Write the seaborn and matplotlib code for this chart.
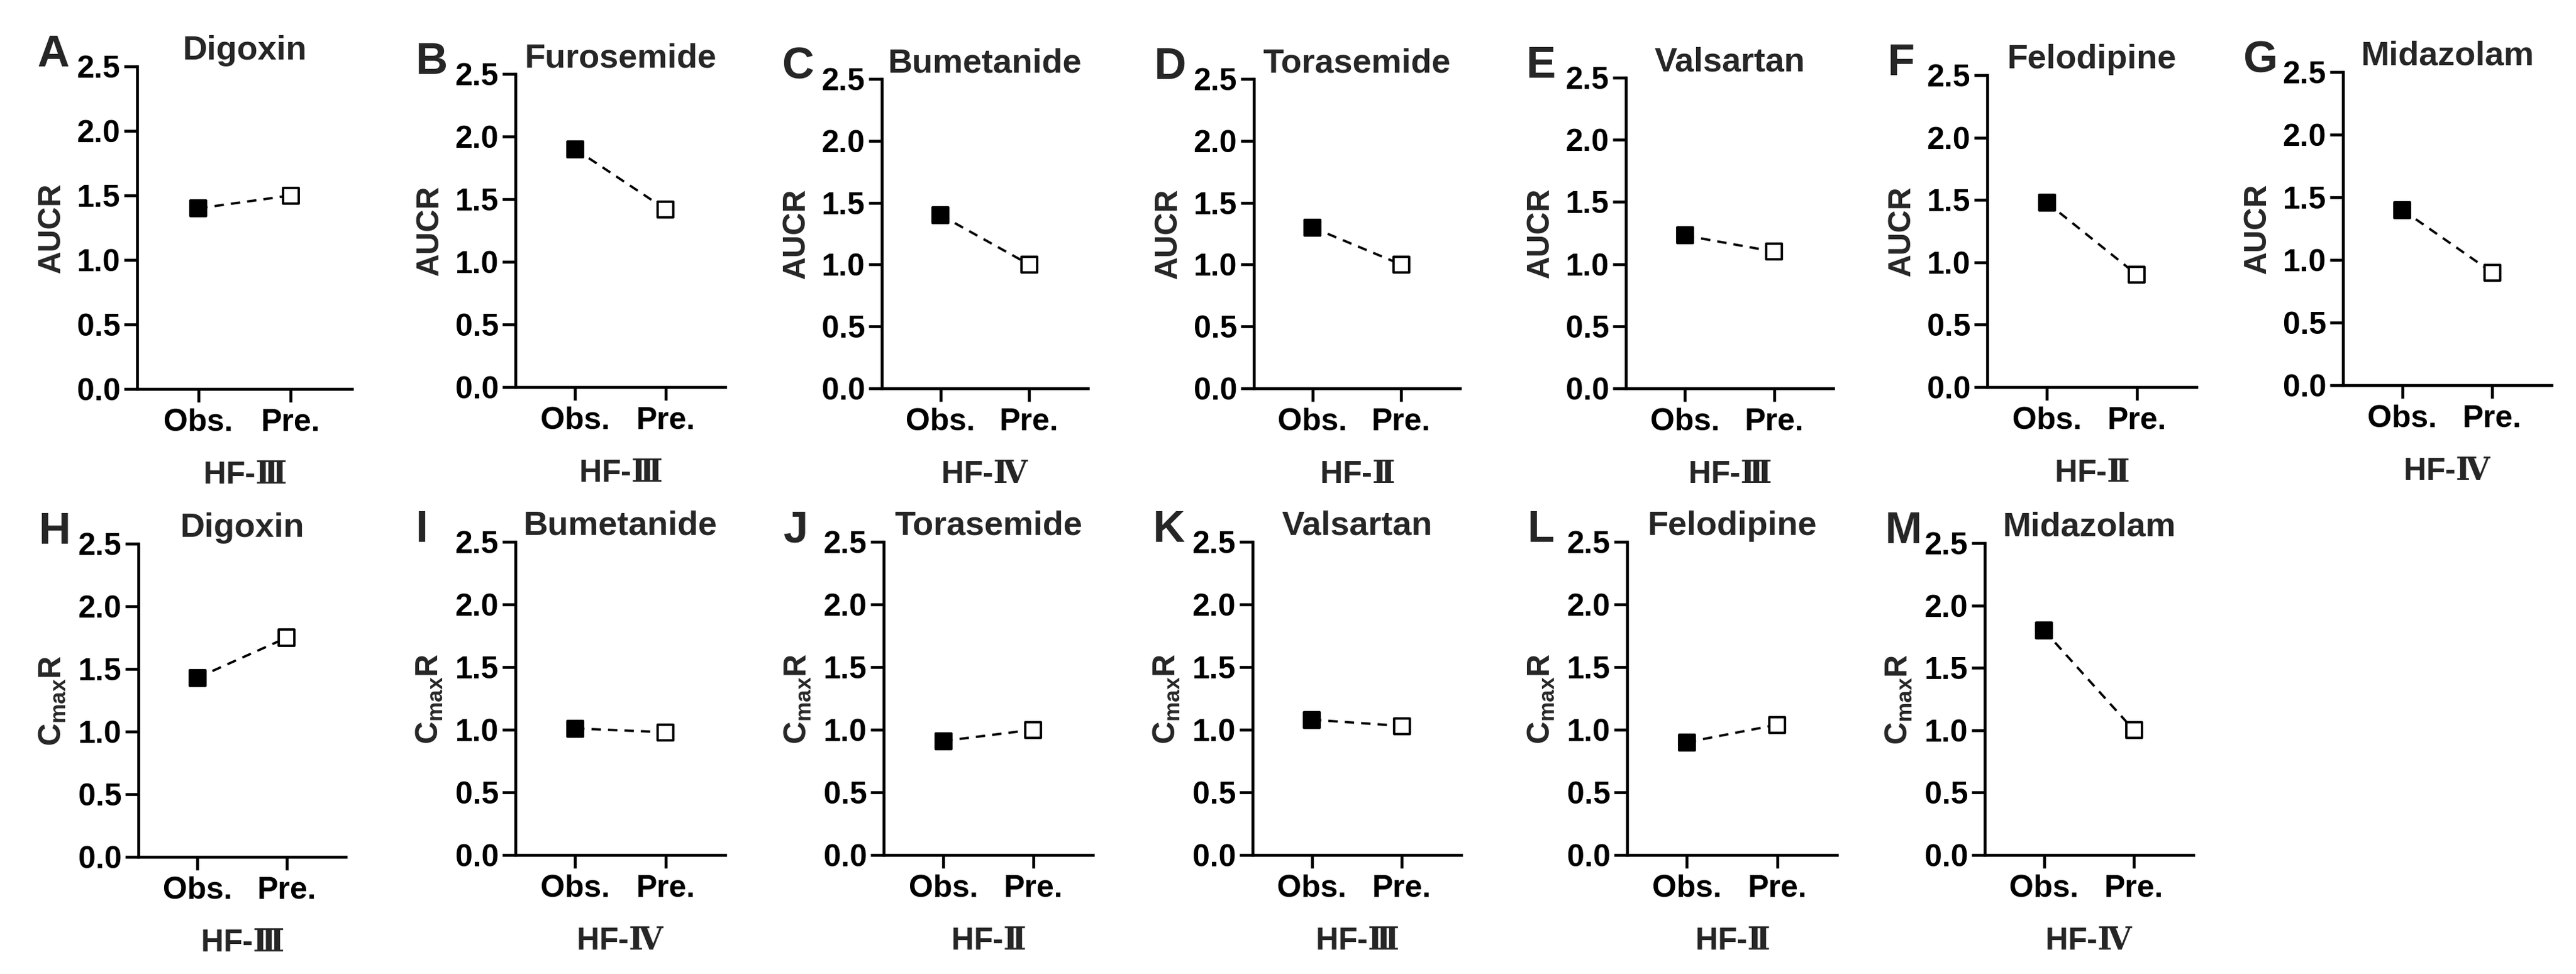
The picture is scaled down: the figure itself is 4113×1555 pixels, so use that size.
import matplotlib
matplotlib.use("Agg")
import matplotlib.pyplot as plt
import pandas as pd
import seaborn as sns

# AUC ratio panels (top row)
auc_letters = ["A", "B", "C", "D", "E", "F", "G"]
auc_drugs = ["Digoxin", "Furosemide", "Bumetanide", "Torasemide", "Valsartan", "Felodipine", "Midazolam"]
auc_obs = [1.40, 1.90, 1.40, 1.30, 1.23, 1.48, 1.40]
auc_pre = [1.50, 1.42, 1.00, 1.00, 1.10, 0.90, 0.90]
auc_stage = ["Ⅲ", "Ⅲ", "Ⅳ", "Ⅱ", "Ⅲ", "Ⅱ", "Ⅳ"]

# Cmax ratio panels (bottom row)
cmax_letters = ["H", "I", "J", "K", "L", "M"]
cmax_drugs = ["Digoxin", "Bumetanide", "Torasemide", "Valsartan", "Felodipine", "Midazolam"]
cmax_obs = [1.43, 1.01, 0.91, 1.08, 0.90, 1.80]
cmax_pre = [1.75, 0.98, 1.00, 1.03, 1.04, 1.00]
cmax_stage = ["Ⅲ", "Ⅳ", "Ⅱ", "Ⅲ", "Ⅱ", "Ⅳ"]

groups = ["Obs.", "Pre."]
y_ticks = [0.0, 0.5, 1.0, 1.5, 2.0, 2.5]

# panel boxes in pixels: left, top (2.5), right, bottom (0.0)
W, H = 4113, 1555
auc_boxes = [(219, 106, 562, 621), (823, 118, 1158, 618), (1408, 126, 1737, 620),
             (2002, 126, 2331, 620), (2596, 124, 2927, 620), (3173, 120, 3507, 618),
             (3741, 115, 4074, 615)]
cmax_boxes = [(221, 868, 552, 1368), (823, 865, 1158, 1365), (1411, 865, 1745, 1365),
              (2000, 865, 2333, 1365), (2598, 865, 2933, 1365), (3169, 867, 3502, 1365)]

sns.set_style("ticks")
plt.rcParams["font.family"] = ["Liberation Sans", "DejaVu Sans"]
plt.rcParams["font.weight"] = "bold"
plt.rcParams["axes.labelweight"] = "bold"
plt.rcParams["axes.titleweight"] = "bold"
plt.rcParams["mathtext.fontset"] = "custom"
plt.rcParams["mathtext.rm"] = "Liberation Sans:bold"
plt.rcParams["mathtext.bf"] = "Liberation Sans:bold"
plt.rcParams["mathtext.it"] = "Liberation Sans:bold"
# serif roman numerals for the HF stage labels
plt.rcParams["mathtext.sf"] = "DejaVu Serif:bold"

fig = plt.figure(figsize=(W / 300, H / 300), dpi=300)


def draw_panel(box, letter, drug, obs, pre, stage, ylab):
    l, t, r, b = box
    w = r - l
    ax = fig.add_axes([l / W, 1 - b / H, w / W, (b - t) / H])
    df = pd.DataFrame({"group": groups, "value": [obs, pre]})
    sns.lineplot(data=df, x="group", y="value", color="black", linewidth=0.9,
                 linestyle=(0, (4, 3)), sort=False, errorbar=None, ax=ax, zorder=2)
    sns.scatterplot(data=df, x="group", y="value", hue="group",
                    palette={"Obs.": "black", "Pre.": "white"}, marker="s", s=36,
                    edgecolor="black", linewidth=0.9, legend=False, ax=ax,
                    zorder=3, clip_on=False)
    ax.set_xticks([0, 1])
    ax.set_xticklabels(groups)
    ax.set_xlim(-0.66, 1.66)
    ax.set_ylim(0, 2.5)
    ax.set_yticks(y_ticks)
    ax.set_yticklabels([f"{v:.1f}" for v in y_ticks])
    sns.despine(ax=ax)
    for sp in ["left", "bottom"]:
        ax.spines[sp].set_linewidth(1.1)
        ax.spines[sp].set_color("black")
    ax.tick_params(axis="both", direction="out", length=5, width=1.1,
                   labelsize=12, colors="black")
    ax.tick_params(axis="y", pad=1.5)
    ax.tick_params(axis="x", pad=2.5)
    ax.set_xlabel("HF-$\\mathsf{" + stage + "}$", fontsize=12, labelpad=9)
    ax.set_ylabel(ylab, fontsize=12, labelpad=4)
    ax.set_title(drug, fontsize=13, pad=1.5)
    ax.text(-160 / w, 1.0, letter, transform=ax.transAxes, fontsize=17,
            fontweight="bold", ha="left", va="baseline")


for i in range(len(auc_drugs)):
    draw_panel(auc_boxes[i], auc_letters[i], auc_drugs[i], auc_obs[i], auc_pre[i],
               auc_stage[i], "AUCR")

for i in range(len(cmax_drugs)):
    draw_panel(cmax_boxes[i], cmax_letters[i], cmax_drugs[i], cmax_obs[i], cmax_pre[i],
               cmax_stage[i], r"$\mathrm{C_{max}R}$")

fig.savefig("out.png", dpi=300, facecolor="white")
